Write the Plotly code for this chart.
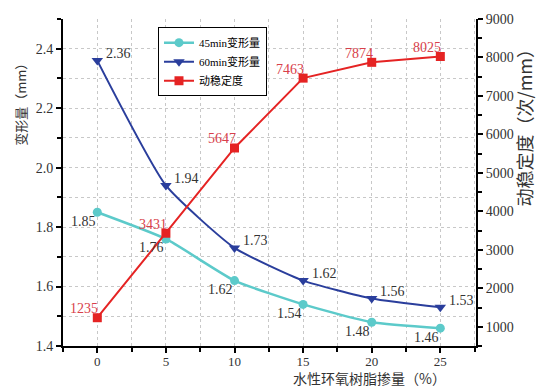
import plotly.graph_objects as go

dosage = [0, 5, 10, 15, 20, 25]
deform_45 = [1.85, 1.76, 1.62, 1.54, 1.48, 1.46]
deform_60 = [2.36, 1.94, 1.73, 1.62, 1.56, 1.53]
stability = [1235, 3431, 5647, 7463, 7874, 8025]
labels_45 = ["1.85", "1.76", "1.62", "1.54", "1.48", "1.46"]
labels_60 = ["2.36", "1.94", "1.73", "1.62", "1.56", "1.53"]
labels_st = ["1235", "3431", "5647", "7463", "7874", "8025"]
names = ["45min变形量", "60min变形量", "动稳定度"]

C_CYAN = "#5ccaca"
C_BLUE = "#2a3e9c"
C_RED = "#e52323"
SERIF = "Liberation Serif"
CJK = "Noto Sans CJK SC"

fig = go.Figure()
fig.add_trace(go.Scatter(x=dosage, y=deform_45, name=names[0], mode="lines+markers",
                         line=dict(color=C_CYAN, width=2.5, shape="spline", smoothing=0.5),
                         marker=dict(symbol="circle", size=9, color=C_CYAN)))
fig.add_trace(go.Scatter(x=dosage, y=deform_60, name=names[1], mode="lines+markers",
                         line=dict(color=C_BLUE, width=2, shape="spline", smoothing=0.5),
                         marker=dict(symbol="triangle-down", size=10, color=C_BLUE)))
fig.add_trace(go.Scatter(x=dosage, y=stability, name=names[2], mode="lines+markers", yaxis="y2",
                         line=dict(color=C_RED, width=2),
                         marker=dict(symbol="square", size=9, color=C_RED)))

ML, MR, MT, MB = 63, 61, 14, 42
pw = 537 - ML - MR
ph = 388 - MT - MB
def px(xp):
    return (xp - ML) / pw
def py(yp):
    return (388 - MB - yp) / ph

ann = []
for x, y, t in zip(dosage, deform_45, labels_45):
    ann.append(dict(x=x, y=y, xref="x", yref="y", text=t, showarrow=False,
                    xanchor="center", yanchor="middle",
                    xshift=-14, yshift=-9, font=dict(family=SERIF, size=14, color="#333333")))
for x, y, t in zip(dosage, deform_60, labels_60):
    ann.append(dict(x=x, y=y, xref="x", yref="y", text=t, showarrow=False,
                    xanchor="center", yanchor="middle",
                    xshift=21, yshift=7, font=dict(family=SERIF, size=14, color="#333333")))
for x, y, t in zip(dosage, stability, labels_st):
    ann.append(dict(x=x, y=y, xref="x", yref="y2", text=t, showarrow=False,
                    xanchor="center", yanchor="middle",
                    xshift=-13, yshift=9, font=dict(family=SERIF, size=14, color="#d8404a")))

ann.append(dict(x=px(369), y=py(378), xref="paper", yref="paper", text="水性环氧树脂掺量（%）",
                xanchor="center", yanchor="middle", showarrow=False,
                font=dict(family=CJK, size=14, color="#333333")))
ann.append(dict(x=px(21), y=py(98), xref="paper", yref="paper", text="变形量（mm）",
                xanchor="center", yanchor="middle", textangle=-90, showarrow=False,
                font=dict(family=CJK, size=13, color="#333333")))
ann.append(dict(x=px(524), y=py(120), xref="paper", yref="paper", text="动稳定度（次/mm）",
                xanchor="center", yanchor="middle", textangle=-90, showarrow=False,
                font=dict(family=CJK, size=18, color="#333333")))

fig.update_layout(
    width=537, height=388,
    margin=dict(l=ML, r=MR, t=MT, b=MB),
    paper_bgcolor="white", plot_bgcolor="white",
    font=dict(family=SERIF, size=14, color="#333333"),
    showlegend=True,
    legend=dict(x=0.23, y=0.975, xanchor="left", yanchor="top",
                bordercolor="black", borderwidth=1, bgcolor="white",
                font=dict(family=SERIF + ", " + CJK, size=11, color="black"),
                tracegroupgap=0, itemwidth=30),
    xaxis=dict(range=[-2.5, 27.6], tickvals=dosage, ticktext=[str(v) for v in dosage],
               ticks="outside", ticklen=5, tickwidth=1.5, tickcolor="black",
               showline=True, linecolor="black", linewidth=2, ticklabelstandoff=-3,
               showgrid=True, gridcolor="#c8c8c8", griddash="dot", gridwidth=1,
               minor=dict(dtick=2.5, tick0=0, ticks="outside", ticklen=4, tickcolor="black",
                          showgrid=True, gridcolor="#c8c8c8", griddash="dot"),
               zeroline=False, tickfont=dict(family=SERIF, size=13, color="#333333")),
    xaxis2=dict(range=[-2.5, 27.6], overlaying="x", side="top", showticklabels=False,
                tickvals=[-2.5 + 2.5 * i for i in range(13)], ticks="inside", ticklen=5,
                tickcolor="black", showline=True, linecolor="black", linewidth=2,
                showgrid=False, zeroline=False),
    yaxis=dict(range=[1.4, 2.5], tick0=1.4, dtick=0.2, ticks="outside", ticklen=5,
               tickwidth=1.5, tickcolor="black", showline=True, linecolor="black", linewidth=2,
               showgrid=True, gridcolor="#c8c8c8", griddash="dot",
               minor=dict(dtick=0.1, tick0=1.4, ticks="outside", ticklen=4, tickcolor="black",
                          showgrid=True, gridcolor="#c8c8c8", griddash="dot"),
               tickformat=".1f", zeroline=False,
               tickfont=dict(family=SERIF, size=14, color="#333333")),
    yaxis2=dict(range=[500, 9000], overlaying="y", side="right", tick0=1000, dtick=1000,
                ticks="outside", ticklen=5, tickwidth=1.5, tickcolor="black",
                showline=True, linecolor="black", linewidth=2, showgrid=False,
                minor=dict(dtick=500, tick0=500, ticks="outside", ticklen=4, tickcolor="black"),
                zeroline=False, tickfont=dict(family=SERIF, size=14, color="#333333")),
    annotations=ann,
)

fig.write_html("out.html")
